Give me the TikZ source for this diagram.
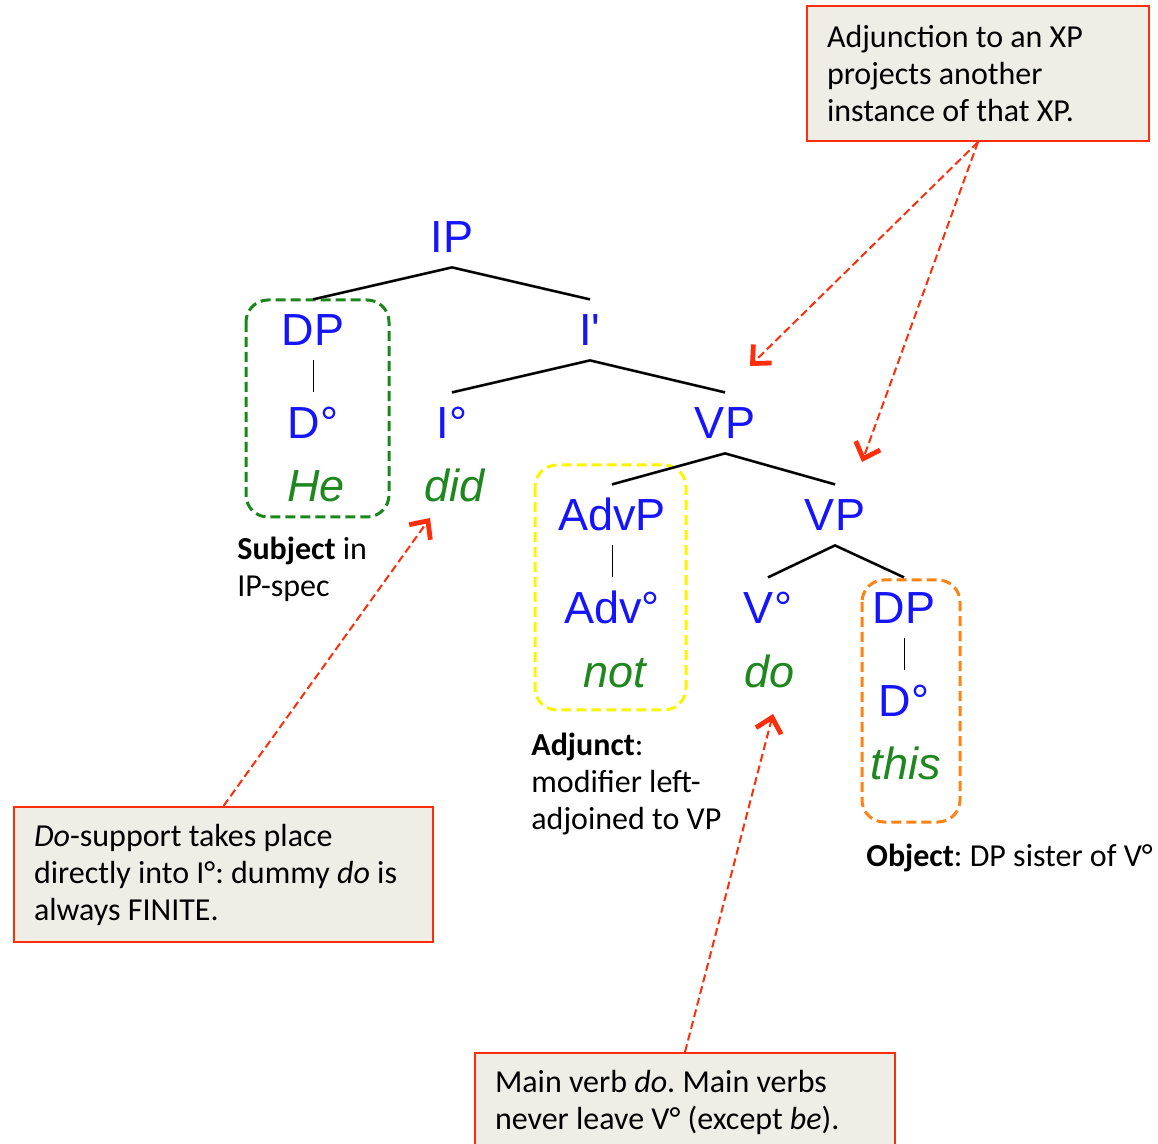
\documentclass[tikz,border=0pt]{standalone}
\usepackage{fontspec}
\setmainfont{Carlito}
\newfontfamily\treefont{Liberation Sans}
\usetikzlibrary{arrows.meta}
\definecolor{catblue}{RGB}{20,20,255}
\definecolor{wordgreen}{RGB}{30,135,30}
\definecolor{notered}{RGB}{255,45,10}
\definecolor{notefill}{RGB}{239,238,230}
\definecolor{subjgreen}{RGB}{25,135,25}
\definecolor{adjyellow}{RGB}{250,245,0}
\definecolor{objorange}{RGB}{255,130,20}
\frenchspacing

\begin{document}
\begin{tikzpicture}[x=0.5pt,y=-0.5pt,
    cat/.style={text=catblue,font=\treefont\fontsize{22.5}{26}\selectfont,text height=16.1pt,text depth=0pt,inner xsep=0pt,inner ysep=7pt,anchor=base},
    word/.style={text=wordgreen,font=\treefont\itshape\fontsize{22.5}{26}\selectfont,inner sep=0pt,anchor=base},
    branch/.style={line width=1.2pt},
    shade/.style={black!30,line width=1.4pt,yshift=-1.2pt,xshift=0.4pt},
    grp/.style={dash pattern=on 5pt off 2.5pt,line width=1.5pt,rounded corners=11pt},
    note/.style={draw=notered,fill=notefill,line width=1pt,align=flush left,inner xsep=10pt,inner ysep=0pt,font=\fontsize{16}{18.5}\selectfont,anchor=north west},
    lbl/.style={align=left,inner sep=0pt,anchor=base west,font=\fontsize{16}{18.5}\selectfont},
    callout/.style={notered,line width=1pt,dash pattern=on 4pt off 2pt,-{Straight Barb[length=7pt,width=13pt,line width=2.4pt]}}
]
    \clip (0,0) rectangle (1158,1144);
    \useasboundingbox (0,0) rectangle (1158,1144);

    % constituents that are boxed
    \draw[grp,subjgreen] (246,300) rectangle (389,517);
    \draw[grp,adjyellow] (535,465) rectangle (686,710);
    \draw[grp,objorange] (862,580) rectangle (960,822);

    % the tree
    \node[cat] (IP) at (452,253) {IP};
    \node[cat] (DPs) at (313,346) {DP};
    \node[cat] (Ds) at (313,439) {D°};
    \node[word] (he) at (316,502) {He};
    \node[cat] (Ibar) at (590,346) {I\textquotesingle};
    \node[cat] (I0) at (452,439) {I°};
    \node[word] (did) at (455,502) {did};
    \node[cat] (VPa) at (725,439) {VP};
    \node[cat] (AdvP) at (612,531) {AdvP};
    \node[cat] (Adv0) at (612,624) {Adv°};
    \node[word] (not) at (615,688) {not};
    \node[cat] (VPb) at (835,531) {VP};
    \node[cat] (V0) at (768,624) {V°};
    \node[word] (do) at (770,688) {do};
    \node[cat] (DPo) at (904,624) {DP};
    \node[cat] (Do) at (904,717) {D°};
    \node[word] (this) at (906,780) {this};

    \draw[shade] (DPs.north) -- (IP.south) -- (Ibar.north);
    \draw[shade] (I0.north) -- (Ibar.south) -- (VPa.north);
    \draw[shade] (AdvP.north) -- (VPa.south) -- (VPb.north);
    \draw[shade] (V0.north) -- (VPb.south) -- (DPo.north);
    \draw[branch] (DPs.north) -- (IP.south) -- (Ibar.north);
    \draw[branch] (I0.north) -- (Ibar.south) -- (VPa.north);
    \draw[branch] (AdvP.north) -- (VPa.south) -- (VPb.north);
    \draw[branch] (V0.north) -- (VPb.south) -- (DPo.north);
    \draw (DPs.south) -- (Ds.north);
    \draw (AdvP.south) -- (Adv0.north);
    \draw (DPo.south) -- (Do.north);

    % labels (base = last line)
    \node[lbl] (subjlbl) at (237,597) {\textbf{Subject} in\\IP-spec};
    \node[lbl] (adjlbl) at (531,829) {\textbf{Adjunct}:\\modifier left-\\adjoined to VP};
    \node[lbl] (objlbl) at (866,866) {\textbf{Object}: DP sister of V°};

    % notes
    \node[note,text width=151pt,minimum height=67.5pt] (adjnote) at (806,5)
        {Adjunction to an XP\\projects another\\instance of that XP.};
    \node[note,text width=189.5pt,minimum height=67.5pt] (donote) at (13,806)
        {\textit{Do}-support takes place\\directly into I°: dummy \textit{do} is\\always FINITE.};
    \node[note,text width=190pt,minimum height=49.5pt] (verbnote) at (474,1052)
        {Main verb \textit{do}. Main verbs\\never leave V° (except \textit{be}).};

    \coordinate (tipa) at (750,366);
    \coordinate (tipb) at (862,462);
    \coordinate (tipc) at (430,518);
    \coordinate (tipd) at (773,714);
    \draw[callout] (adjnote.south) -- (tipa);
    \draw[callout] (adjnote.south) -- (tipb);
    \draw[callout] (donote.north) -- (tipc);
    \draw[callout] (verbnote.north) -- (tipd);
\end{tikzpicture}
\end{document}
